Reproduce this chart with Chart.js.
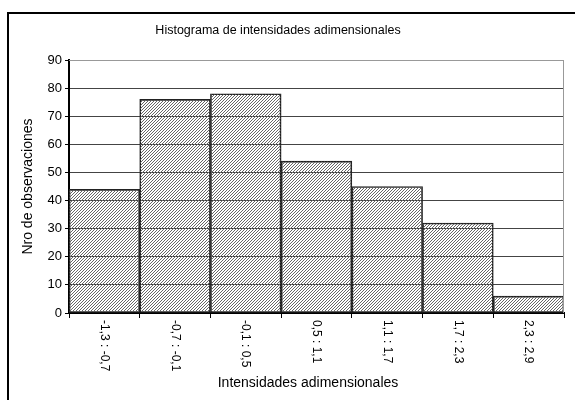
<!DOCTYPE html>
<html>
<head>
<meta charset="utf-8">
<script src="https://cdn.jsdelivr.net/npm/chart.js@4"></script>
<style>
  html, body { margin: 0; padding: 0; background: #fff; }
  #wrap { width: 575px; height: 400px; }
</style>
</head>
<body>
<div id="wrap"><canvas id="hist" width="575" height="400"></canvas></div>
<script>
/* Data */
const bins = ['-1,3 : -0,7', '-0,7 : -0,1', '-0,1 : 0,5', '0,5 : 1,1', '1,1 : 1,7', '1,7 : 2,3', '2,3 : 2,9'];
const counts = [44, 76, 78, 54, 45, 32, 6];
const yTicks = [0, 10, 20, 30, 40, 50, 60, 70, 80, 90];

const chartTitle = 'Histograma de intensidades adimensionales';
const xTitle = 'Intensidades adimensionales';
const yTitle = 'Nro de observaciones';
const FONT = '"Liberation Sans", Arial, sans-serif';

/* fine diagonal hatch fill */
function hatch() {
  const c = document.createElement('canvas');
  c.width = 3; c.height = 3;
  const g = c.getContext('2d');
  g.fillStyle = '#666';
  for (let i = 0; i < 3; i++) g.fillRect(i, 2 - i, 1, 1);
  return g.createPattern(c, 'repeat');
}

/* frame, title and the downward-reading bin labels */
const decor = {
  id: 'decor',
  beforeDraw(chart) {
    const ctx = chart.ctx;
    ctx.save();
    ctx.fillStyle = '#fff';
    ctx.fillRect(0, 0, chart.width, chart.height);
    ctx.restore();
  },
  afterDraw(chart) {
    const { ctx, chartArea: a } = chart;
    const x = chart.scales.x;
    ctx.save();
    // outer frame
    ctx.strokeStyle = '#000'; ctx.lineWidth = 2;
    ctx.strokeRect(8, 13, 700, 700);
    // plot area top/right border
    ctx.strokeStyle = '#999'; ctx.lineWidth = 1;
    ctx.beginPath();
    ctx.moveTo(a.left, a.top + 0.5); ctx.lineTo(a.right - 0.5, a.top + 0.5); ctx.lineTo(a.right - 0.5, a.bottom);
    ctx.stroke();

    ctx.fillStyle = '#000';
    ctx.textAlign = 'center'; ctx.textBaseline = 'middle';
    ctx.font = '12.5px ' + FONT;
    ctx.fillText(chartTitle, 278, 31);
    ctx.font = '14px ' + FONT;
    ctx.fillText(xTitle, 308, 383);

    ctx.font = '12px ' + FONT;
    bins.forEach((lbl, i) => {
      ctx.save();
      ctx.translate(x.getPixelForTick(i), a.bottom + 7);
      ctx.rotate(Math.PI / 2);
      ctx.textAlign = 'left'; ctx.textBaseline = 'middle';
      ctx.fillText(lbl, 0, 0);
      ctx.restore();
    });
    ctx.restore();
  }
};

new Chart(document.getElementById('hist'), {
  type: 'bar',
  data: {
    labels: bins,
    datasets: [{
      label: yTitle,
      data: counts,
      backgroundColor: hatch(),
      borderColor: '#222',
      borderWidth: 1,
      borderSkipped: false,
      barPercentage: 1,
      categoryPercentage: 1
    }]
  },
  options: {
    responsive: false,
    animation: false,
    layout: { padding: { left: 0, top: 60, right: 11, bottom: 0 } },
    plugins: { legend: { display: false }, title: { display: false }, tooltip: { enabled: false } },
    scales: {
      x: {
        afterFit: s => { s.height = 87; },
        grid: { drawOnChartArea: false, drawTicks: true, tickLength: 5, color: '#000' },
        border: { color: '#000', width: 2 },
        ticks: { display: false }
      },
      y: {
        min: 0, max: 90,
        afterFit: s => { s.width = 69; },
        afterBuildTicks: s => { s.ticks = yTicks.map(v => ({ value: v })); },
        grid: {
          color: ctx => ctx.tick && ctx.tick.value === 90 ? '#999' : '#444',
          tickColor: '#000',
          tickLength: 4
        },
        border: { color: '#000', width: 2 },
        ticks: { color: '#000', padding: 3, font: { family: FONT, size: 13 } },
        title: { display: true, text: yTitle, color: '#000', font: { family: FONT, size: 14 }, padding: { top: 20, bottom: 0 } }
      }
    }
  },
  plugins: [decor]
});
</script>
</body>
</html>
